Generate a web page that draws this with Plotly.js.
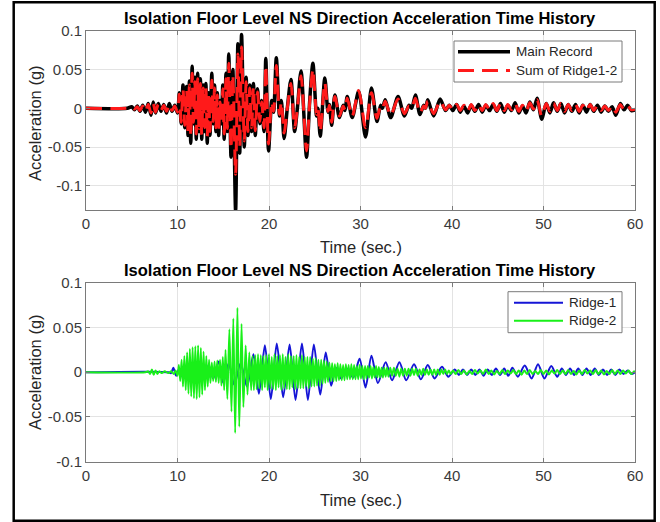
<!DOCTYPE html>
<html>
<head>
<meta charset="utf-8">
<script src="https://cdn.plot.ly/plotly-3.0.1.min.js"></script>
<style>
  html, body { margin: 0; padding: 0; background: #ffffff; }
  #chart { width: 660px; height: 522px; }
</style>
</head>
<body>
<div id="chart"></div>
<script>
// Turning points [time (s), acceleration (g)] of each record.
const mainRecordPts = [
  [0,0],[4.5,0],[5.0,0.002],[5.3,-0.002],[5.6,0.003],[5.9,-0.004],[6.2,0.004],[6.5,-0.005],[6.8,0.006],[7.1,-0.009],
  [7.35,0.008],[7.6,-0.006],[7.9,0.006],[8.2,-0.004],[8.5,0.005],[8.8,-0.006],[9.1,0.006],[9.4,-0.004],[9.7,0.004],[10.0,-0.006],
  [10.2,0.02],[10.4,-0.02],[10.6,0.03],[10.8,-0.025],[11.0,0.028],[11.15,-0.035],[11.3,0.035],[11.45,-0.045],[11.6,0.054],[11.75,-0.02],
  [11.9,0.04],[12.05,-0.04],[12.2,0.045],[12.35,-0.03],[12.5,0.038],[12.65,-0.04],[12.8,0.03],[12.95,-0.03],[13.1,0.032],[13.25,-0.045],
  [13.4,0.02],[13.55,-0.035],[13.75,0.045],[13.9,-0.02],[14.05,0.03],[14.2,-0.03],[14.35,0.02],[14.5,-0.035],[14.65,0.01],[14.8,-0.02],
  [14.95,0.03],[15.1,-0.04],[15.3,0.045],[15.45,-0.03],[15.6,0.07],[15.85,-0.063],[16.05,0.05],[16.35,-0.132],[16.6,0.083],[16.8,-0.058],
  [17.0,0.095],[17.3,-0.05],[17.5,0.04],[17.7,-0.035],[17.9,0.03],[18.1,-0.03],[18.3,0.032],[18.5,-0.035],[18.75,0.025],[19.0,-0.02],
  [19.2,0.01],[19.45,-0.03],[19.65,0.064],[19.95,-0.055],[20.3,0.01],[20.5,-0.005],[20.8,0.065],[21.15,-0.01],[21.35,0.01],[21.65,-0.039],
  [22.0,0.0],[22.4,0.037],[22.8,-0.03],[23.1,0.0],[23.5,0.048],[24.1,-0.063],[24.45,0.01],[24.8,0.058],[25.2,-0.01],[25.35,0.0],
  [25.6,-0.036],[26.1,0.039],[26.45,-0.005],[26.6,0.005],[26.85,-0.022],[27.2,0.017],[27.7,-0.012],[28.1,0.004],[28.3,-0.003],[28.55,0.015],
  [29.1,-0.012],[29.8,0.022],[30.55,-0.037],[31.2,0.026],[31.8,-0.017],[32.2,0.004],[32.4,0.0],[32.7,0.011],[33.3,-0.012],[34.1,0.015],
  [34.8,-0.01],[35.3,0.004],[35.6,0.0],[36.0,0.017],[36.5,-0.008],[36.9,0.004],[37.1,0.0],[37.35,0.011],[38.0,-0.01],[38.7,0.012],
  [39.3,-0.003],[39.7,0.004],[40.1,-0.003],[40.5,0.005],[40.9,-0.005],[41.3,0.003],[41.7,-0.006],[42.1,0.004],[42.5,-0.004],[42.9,0.005],
  [43.3,-0.005],[43.7,0.004],[44.1,-0.003],[44.5,0.005],[44.9,-0.004],[45.3,0.006],[45.7,-0.005],[46.1,0.004],[46.5,-0.003],[46.9,0.007],
  [47.3,-0.006],[47.7,0.003],[48.1,-0.006],[48.5,0.008],[48.9,-0.002],[49.3,0.013],[49.8,-0.014],[50.3,0.006],[50.7,-0.006],[51.1,0.007],
  [51.5,-0.004],[51.9,0.006],[52.3,-0.006],[52.7,0.005],[53.1,-0.004],[53.5,0.005],[53.9,-0.006],[54.3,0.004],[54.7,-0.005],[55.1,0.005],
  [55.5,-0.004],[55.9,0.004],[56.3,-0.005],[56.7,0.003],[57.1,-0.004],[57.5,0.002],[57.9,-0.009],[58.4,0.006],[58.8,-0.002],[59.2,0.004],
  [59.6,-0.003],[60,-0.002]
];

const ridgeSumPts = [
  [0,0],[4.5,0],[5.0,0.001],[5.3,-0.001],[5.6,0.002],[5.9,-0.003],[6.2,0.003],[6.5,-0.004],[6.8,0.005],[7.1,-0.006],
  [7.35,0.006],[7.6,-0.005],[7.9,0.005],[8.2,-0.003],[8.5,0.004],[8.8,-0.004],[9.1,0.005],[9.4,-0.003],[9.7,0.003],[10.0,-0.005],
  [10.2,0.018],[10.4,-0.018],[10.6,0.025],[10.8,-0.022],[11.0,0.024],[11.15,-0.03],[11.3,0.03],[11.45,-0.036],[11.6,0.045],[11.75,-0.018],
  [11.9,0.034],[12.05,-0.033],[12.2,0.038],[12.35,-0.026],[12.5,0.032],[12.65,-0.034],[12.8,0.026],[12.95,-0.025],[13.1,0.027],[13.25,-0.036],
  [13.4,0.017],[13.55,-0.03],[13.75,0.036],[13.9,-0.017],[14.05,0.026],[14.2,-0.025],[14.35,0.017],[14.5,-0.028],[14.65,0.008],[14.8,-0.017],
  [14.95,0.025],[15.1,-0.033],[15.3,0.038],[15.45,-0.026],[15.6,0.058],[15.85,-0.052],[16.05,0.043],[16.35,-0.085],[16.6,0.07],[16.8,-0.05],
  [17.0,0.079],[17.3,-0.042],[17.5,0.034],[17.7,-0.03],[17.9,0.026],[18.1,-0.025],[18.3,0.027],[18.5,-0.029],[18.75,0.021],[19.0,-0.017],
  [19.2,0.008],[19.45,-0.025],[19.65,0.055],[19.95,-0.046],[20.3,0.008],[20.5,-0.004],[20.8,0.055],[21.15,-0.008],[21.35,0.008],[21.65,-0.032],
  [22.0,0.0],[22.4,0.032],[22.8,-0.025],[23.1,0.0],[23.5,0.042],[24.1,-0.055],[24.45,0.008],[24.8,0.05],[25.2,-0.008],[25.35,0.0],
  [25.6,-0.03],[26.1,0.033],[26.45,-0.004],[26.6,0.004],[26.85,-0.018],[27.2,0.015],[27.7,-0.01],[28.1,0.003],[28.3,-0.002],[28.55,0.013],
  [29.1,-0.01],[29.8,0.023],[30.55,-0.025],[31.2,0.02],[31.8,-0.013],[32.2,0.003],[32.4,0.0],[32.7,0.009],[33.3,-0.009],[34.1,0.012],
  [34.8,-0.007],[35.3,0.003],[35.6,0.0],[36.0,0.013],[36.5,-0.006],[36.9,0.003],[37.1,0.0],[37.35,0.009],[38.0,-0.007],[38.7,0.009],
  [39.3,-0.002],[39.7,0.004],[40.1,-0.002],[40.5,0.005],[40.9,-0.003],[41.3,0.004],[41.7,-0.004],[42.1,0.005],[42.5,-0.003],[42.9,0.005],
  [43.3,-0.003],[43.7,0.005],[44.1,-0.002],[44.5,0.006],[44.9,-0.003],[45.3,0.006],[45.7,-0.003],[46.1,0.005],[46.5,-0.002],[46.9,0.006],
  [47.3,-0.004],[47.7,0.004],[48.1,-0.004],[48.5,0.007],[48.9,-0.001],[49.3,0.011],[49.8,-0.01],[50.3,0.006],[50.7,-0.004],[51.1,0.006],
  [51.5,-0.003],[51.9,0.006],[52.3,-0.004],[52.7,0.005],[53.1,-0.003],[53.5,0.005],[53.9,-0.004],[54.3,0.004],[54.7,-0.003],[55.1,0.005],
  [55.5,-0.003],[55.9,0.004],[56.3,-0.003],[56.7,0.003],[57.1,-0.003],[57.5,0.003],[57.9,-0.005],[58.4,0.005],[58.8,-0.002],[59.2,0.003],
  [59.6,-0.002],[60,-0.001]
];

const ridge1Pts = [
  [0,0],[9.0,0],[9.3,-0.001],[9.55,0.005],[9.85,-0.004],[10.2,0.004],[10.6,-0.006],[11.0,0.006],[11.4,-0.008],[11.8,0.007],
  [12.2,-0.009],[12.6,0.008],[13.0,-0.008],[13.4,0.008],[13.9,-0.007],[14.5,0.012],[15.0,-0.012],[15.6,0.01],[16.2,-0.014],[16.9,0.01],
  [17.6,-0.016],[18.3,0.02],[18.9,-0.024],[19.55,0.03],[20.2,-0.03],[20.85,0.032],[21.55,-0.028],[22.25,0.031],[22.9,-0.031],[23.6,0.032],
  [24.25,-0.031],[24.9,0.031],[25.6,-0.025],[26.2,0.022],[26.8,-0.015],[27.3,0.005],[27.9,-0.007],[28.5,0.004],[29.2,-0.006],[29.9,0.015],
  [30.55,-0.017],[31.2,0.0185],[31.9,-0.012],[32.75,0.011],[33.45,-0.009],[34.25,0.011],[35.0,-0.009],[35.85,0.009],[36.6,-0.008],[37.35,0.008],
  [38.1,-0.007],[38.9,0.006],[39.6,-0.005],[40.3,0.003],[40.75,-0.003],[41.2,0.003],[41.65,-0.003],[42.1,0.003],[42.55,-0.003],[43.0,0.003],
  [43.45,-0.004],[43.9,0.003],[44.35,-0.003],[44.8,0.004],[45.25,-0.003],[45.7,0.004],[46.15,-0.004],[46.6,0.005],[47.2,-0.005],[47.95,0.0075],
  [48.7,-0.007],[49.4,0.009],[50.1,-0.007],[50.85,0.007],[51.5,-0.005],[52.0,0.004],[52.45,-0.003],[52.9,0.004],[53.35,-0.003],[53.8,0.004],
  [54.25,-0.003],[54.7,0.004],[55.15,-0.003],[55.6,0.004],[56.05,-0.003],[56.5,0.003],[56.95,-0.003],[57.4,0.003],[57.85,-0.003],[58.3,0.003],
  [58.75,-0.002],[59.2,0.002],[59.6,-0.002],[60,0]
];

const ridge2Pts = [
  [0,0],[6.5,0],[6.8,0.001],[7.0,-0.002],[7.2,0.003],[7.4,-0.003],[7.6,0.002],[7.8,-0.002],[8.0,0.001],[8.3,-0.001],
  [8.6,0.001],[9.0,-0.001],[9.3,0.001],[9.6,-0.002],[9.8,0.002],[10.0,-0.004],[10.15,0.008],[10.3,-0.01],[10.45,0.014],[10.6,-0.016],
  [10.75,0.018],[10.9,-0.02],[11.05,0.022],[11.2,-0.024],[11.35,0.026],[11.5,-0.027],[11.65,0.028],[11.8,-0.029],[11.95,0.029],[12.1,-0.03],
  [12.25,0.03],[12.4,-0.028],[12.55,0.027],[12.7,-0.025],[12.85,0.023],[13.0,-0.02],[13.15,0.018],[13.3,-0.016],[13.45,0.014],[13.6,-0.012],
  [13.75,0.011],[13.9,-0.01],[14.05,0.012],[14.2,-0.011],[14.35,0.013],[14.5,-0.012],[14.65,0.014],[14.8,-0.015],[14.95,0.017],[15.1,-0.02],
  [15.25,0.025],[15.45,-0.03],[15.67,0.048],[15.9,-0.044],[16.1,0.06],[16.3,-0.068],[16.55,0.072],[16.75,-0.061],[17.0,0.054],[17.2,-0.039],
  [17.45,0.03],[17.65,-0.025],[17.85,0.022],[18.05,-0.02],[18.2,0.018],[18.35,-0.02],[18.5,0.019],[18.65,-0.019],[18.8,0.02],[18.95,-0.018],
  [19.1,0.019],[19.25,-0.02],[19.4,0.018],[19.55,-0.017],[19.7,0.019],[19.85,-0.02],[20.0,0.02],[20.15,-0.018],[20.3,0.017],[20.45,-0.019],
  [20.6,0.02],[20.75,-0.02],[20.9,0.018],[21.05,-0.017],[21.2,0.019],[21.35,-0.02],[21.5,0.02],[21.65,-0.018],[21.8,0.017],[21.95,-0.019],
  [22.1,0.02],[22.25,-0.019],[22.4,0.018],[22.55,-0.017],[22.7,0.018],[22.85,-0.019],[23.0,0.019],[23.15,-0.018],[23.3,0.017],[23.45,-0.018],
  [23.6,0.019],[23.75,-0.018],[23.9,0.017],[24.05,-0.016],[24.2,0.017],[24.35,-0.018],[24.5,0.017],[24.65,-0.016],[24.8,0.015],[24.95,-0.016],
  [25.1,0.016],[25.25,-0.015],[25.4,0.014],[25.55,-0.015],[25.7,0.014],[25.85,-0.013],[26.0,0.013],[26.15,-0.012],[26.3,0.012],[26.45,-0.011],
  [26.6,0.011],[26.75,-0.01],[26.9,0.01],[27.05,-0.01],[27.2,0.009],[27.35,-0.01],[27.5,0.01],[27.65,-0.009],[27.8,0.009],[27.95,-0.009],
  [28.1,0.008],[28.25,-0.009],[28.4,0.009],[28.55,-0.008],[28.7,0.008],[28.85,-0.008],[29.0,0.009],[29.15,-0.008],[29.3,0.008],[29.45,-0.008],
  [29.6,0.007],[29.75,-0.008],[29.9,0.008],[30.05,-0.007],[30.2,0.007],[30.35,-0.008],[30.5,0.007],[30.65,-0.007],[30.8,0.007],[30.95,-0.006],
  [31.1,0.007],[31.25,-0.007],[31.4,0.006],[31.55,-0.006],[31.7,0.007],[31.85,-0.006],[32.0,0.006],[32.15,-0.006],[32.3,0.005],[32.45,-0.006],
  [32.6,0.005],[32.75,-0.005],[32.9,0.005],[33.05,-0.005],[33.25,0.005],[33.45,-0.004],[33.65,0.005],[33.85,-0.004],[34.05,0.004],[34.25,-0.005],
  [34.45,0.004],[34.65,-0.004],[34.85,0.004],[35.05,-0.004],[35.25,0.004],[35.45,-0.004],[35.65,0.004],[35.85,-0.003],[36.05,0.004],[36.25,-0.004],
  [36.45,0.003],[36.65,-0.003],[36.85,0.004],[37.05,-0.003],[37.25,0.003],[37.45,-0.003],[37.65,0.003],[37.85,-0.003],[38.05,0.003],[38.25,-0.003],
  [38.45,0.003],[38.65,-0.003],[38.85,0.003],[39.05,-0.002],[39.25,0.003],[39.45,-0.002],[39.65,0.002],[39.85,-0.002],[40.1,0.002],[40.4,-0.002],
  [40.7,0.0025],[41.0,-0.002],[41.3,0.002],[41.6,-0.0025],[41.9,0.0015],[42.2,-0.002],[42.5,0.0025],[42.8,-0.0015],[43.1,0.002],[43.4,-0.002],
  [43.7,0.003],[44.0,-0.002],[44.3,0.002],[44.6,-0.0025],[44.9,0.0015],[45.2,-0.002],[45.5,0.0025],[45.8,-0.002],[46.1,0.002],[46.4,-0.0015],
  [46.7,0.0025],[47.0,-0.002],[47.3,0.002],[47.6,-0.003],[47.9,0.002],[48.2,-0.002],[48.5,0.0025],[48.8,-0.002],[49.1,0.0015],[49.4,-0.002],
  [49.7,0.0025],[50.0,-0.002],[50.3,0.002],[50.6,-0.0025],[50.9,0.002],[51.2,-0.0015],[51.5,0.0025],[51.8,-0.002],[52.1,0.002],[52.4,-0.002],
  [52.7,0.0025],[53.0,-0.002],[53.3,0.0015],[53.6,-0.0025],[53.9,0.002],[54.2,-0.002],[54.5,0.0025],[54.8,-0.0015],[55.1,0.002],[55.4,-0.002],
  [55.7,0.0025],[56.0,-0.002],[56.3,0.002],[56.6,-0.0025],[56.9,0.0015],[57.2,-0.002],[57.5,0.0025],[57.8,-0.002],[58.1,0.002],[58.4,-0.002],
  [58.7,0.002],[59.0,-0.0015],[59.3,0.002],[59.6,-0.002],[59.9,0.001],[60,0]
];

const chartTitle = 'Isolation Floor Level NS Direction Acceleration Time History';
const xLabel = 'Time (sec.)';
const yLabel = 'Acceleration (g)';
const xTickVals = [0, 10, 20, 30, 40, 50, 60];
const yTickVals = [-0.1, -0.05, 0, 0.05, 0.1];
const yTickText = ['-0.1', '-0.05', '0', '0.05', '0.1'];

const xs = pts => pts.map(p => p[0]);
const ys = pts => pts.map(p => p[1]);

const FONT = 'Liberation Sans, Arial, Helvetica, sans-serif';
const W = 660, H = 522;
const px = v => v / W;
const py = v => 1 - v / H;

// Line styles shared by the traces and their legend keys.
const styleMain = { color: '#000000', width: 3.5 };
const styleSum = { color: '#ff1a1a', width: 3, dash: '16px,8px' };
const styleR1 = { color: '#1515d6', width: 2 };
const styleR2 = { color: '#19f019', width: 1.9 };

const spline = s => Object.assign({ shape: 'spline', smoothing: 0.8 }, s);

const traces = [
  { x: xs(mainRecordPts), y: ys(mainRecordPts), name: 'Main Record', type: 'scatter', mode: 'lines',
    xaxis: 'x', yaxis: 'y', line: spline(styleMain) },
  { x: xs(ridgeSumPts), y: ys(ridgeSumPts), name: 'Sum of Ridge1-2', type: 'scatter', mode: 'lines',
    xaxis: 'x', yaxis: 'y', line: spline(styleSum) },
  { x: xs(ridge1Pts), y: ys(ridge1Pts), name: 'Ridge-1', type: 'scatter', mode: 'lines',
    xaxis: 'x2', yaxis: 'y2', line: spline(styleR1) },
  { x: xs(ridge2Pts), y: ys(ridge2Pts), name: 'Ridge-2', type: 'scatter', mode: 'lines',
    xaxis: 'x2', yaxis: 'y2', line: spline(styleR2) }
];

const axisCommon = {
  showline: true, linecolor: '#7a7a7a', linewidth: 1, mirror: 'ticks',
  ticks: 'inside', ticklen: 4, tickcolor: '#7a7a7a', tickwidth: 1,
  showgrid: true, gridcolor: '#e3e3e3', gridwidth: 1, zeroline: false,
  tickfont: { family: FONT, size: 15, color: '#3a3a3a' }, fixedrange: true
};

// Legend boxes (in pixels): [left, top, right, bottom], line key span, entry rows.
const legends = [
  { box: [454, 41, 622, 82], key: [458, 510], textX: 514,
    rows: [{ y: 51.7, label: 'Main Record', style: styleMain }, { y: 70.5, label: 'Sum of Ridge1-2', style: styleSum }] },
  { box: [508, 291.7, 622, 332.7], key: [514, 563], textX: 567,
    rows: [{ y: 302.7, label: 'Ridge-1', style: styleR1 }, { y: 320.7, label: 'Ridge-2', style: styleR2 }] }
];

const shapes = [
  { type: 'rect', xref: 'paper', yref: 'paper', x0: px(13.7), x1: px(654.7), y0: py(520.7), y1: py(2.2),
    line: { color: '#000000', width: 2.5 }, fillcolor: 'rgba(0,0,0,0)' }
];
const annotations = [
  { text: '<b>' + chartTitle + '</b>', xref: 'paper', yref: 'paper', x: px(360), y: py(18), xanchor: 'center', yanchor: 'middle',
    showarrow: false, font: { family: FONT, size: 16.5, color: '#000000' } },
  { text: '<b>' + chartTitle + '</b>', xref: 'paper', yref: 'paper', x: px(360), y: py(269.5), xanchor: 'center', yanchor: 'middle',
    showarrow: false, font: { family: FONT, size: 16.5, color: '#000000' } },
  { text: xLabel, xref: 'paper', yref: 'paper', x: px(361), y: py(246.5), xanchor: 'center', yanchor: 'middle',
    showarrow: false, font: { family: FONT, size: 16.5, color: '#262626' } },
  { text: xLabel, xref: 'paper', yref: 'paper', x: px(361), y: py(500), xanchor: 'center', yanchor: 'middle',
    showarrow: false, font: { family: FONT, size: 16.5, color: '#262626' } },
  { text: yLabel, xref: 'paper', yref: 'paper', x: px(35), y: py(123), xanchor: 'center', yanchor: 'middle', textangle: -90,
    showarrow: false, font: { family: FONT, size: 16.5, color: '#262626' } },
  { text: yLabel, xref: 'paper', yref: 'paper', x: px(35), y: py(372), xanchor: 'center', yanchor: 'middle', textangle: -90,
    showarrow: false, font: { family: FONT, size: 16.5, color: '#262626' } }
];

legends.forEach(lg => {
  const [l, t, r, b] = lg.box;
  shapes.push({ type: 'rect', xref: 'paper', yref: 'paper', x0: px(l), x1: px(r), y0: py(b), y1: py(t),
    line: { color: '#7a7a7a', width: 1 }, fillcolor: '#ffffff', layer: 'above' });
  lg.rows.forEach(row => {
    shapes.push({ type: 'line', xref: 'paper', yref: 'paper', x0: px(lg.key[0]), x1: px(lg.key[1]), y0: py(row.y), y1: py(row.y),
      line: Object.assign({}, row.style), layer: 'above' });
    annotations.push({ text: row.label, xref: 'paper', yref: 'paper', x: px(lg.textX), y: py(row.y), xanchor: 'left', yanchor: 'middle',
      showarrow: false, font: { family: FONT, size: 13.5, color: '#262626' } });
  });
});

const layout = {
  width: W, height: H,
  margin: { l: 0, r: 0, t: 0, b: 0 },
  paper_bgcolor: '#ffffff', plot_bgcolor: '#ffffff',
  showlegend: false,
  xaxis: Object.assign({}, axisCommon, { domain: [px(86), px(635)], range: [0, 60], anchor: 'y', tickvals: xTickVals }),
  yaxis: Object.assign({}, axisCommon, { domain: [py(210), py(30.6)], range: [-0.131, 0.1], anchor: 'x', tickvals: yTickVals, ticktext: yTickText }),
  xaxis2: Object.assign({}, axisCommon, { domain: [px(86), px(635)], range: [0, 60], anchor: 'y2', tickvals: xTickVals }),
  yaxis2: Object.assign({}, axisCommon, { domain: [py(461.7), py(282.7)], range: [-0.1, 0.1], anchor: 'x2', tickvals: yTickVals, ticktext: yTickText }),
  annotations: annotations,
  shapes: shapes
};

Plotly.newPlot('chart', traces, layout, { displayModeBar: false, staticPlot: true });
</script>
</body>
</html>
